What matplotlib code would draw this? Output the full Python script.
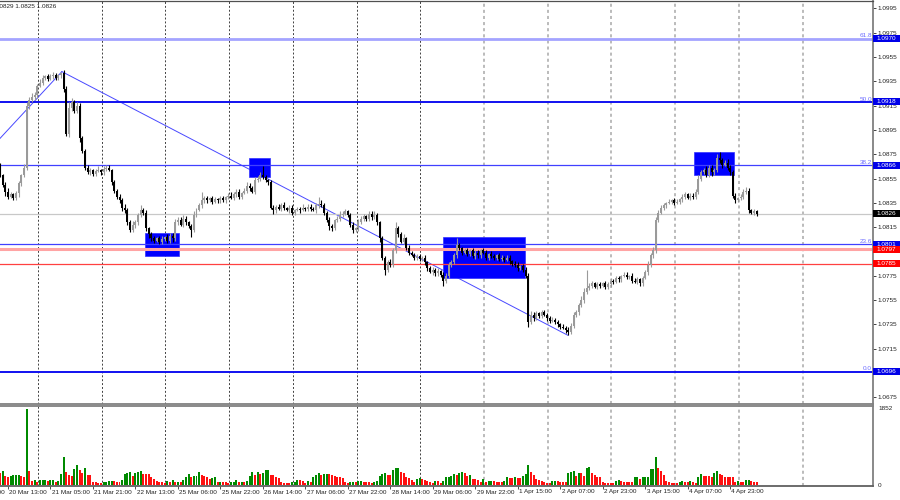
import numpy as np
import matplotlib
matplotlib.use('Agg')
import matplotlib.pyplot as plt
from matplotlib.patches import Rectangle
from matplotlib.transforms import blended_transform_factory

plt.rcParams['font.family'] = ['Liberation Sans', 'DejaVu Sans']

# --- DATA (H1 bars, bar 0 = 20 Mar 13:00) ---
FIRST_BAR = -3
FIRST_OPEN = 1.0866

closes = [
    1.0858, 1.0850, 1.0844, 1.0840, 1.0842, 1.0839, 1.0843, 1.0851, 1.0858, 1.0864,
    1.0915, 1.0920, 1.0922, 1.0924, 1.0931, 1.0934, 1.0938, 1.0939, 1.0937, 1.0939,
    1.0940, 1.0938, 1.0940, 1.0942, 1.0929, 1.0892, 1.0913, 1.0918, 1.0911, 1.0915,
    1.0888, 1.0878, 1.0864, 1.0860, 1.0862, 1.0859, 1.0861, 1.0862, 1.0860, 1.0863,
    1.0864, 1.0862, 1.0852, 1.0845, 1.0840, 1.0837, 1.0831, 1.0829, 1.0819, 1.0813,
    1.0817, 1.0819, 1.0825, 1.0829, 1.0827, 1.0814, 1.0809, 1.0806, 1.0804, 1.0806,
    1.0803, 1.0805, 1.0807, 1.0804, 1.0808, 1.0806, 1.0819, 1.0821, 1.0817, 1.0822,
    1.0819, 1.0816, 1.0813, 1.0825, 1.0829, 1.0833, 1.0837, 1.0839, 1.0837, 1.0839,
    1.0836, 1.0838, 1.0837, 1.0839, 1.0837, 1.0840, 1.0841, 1.0839, 1.0842, 1.0844,
    1.0840, 1.0843, 1.0845, 1.0849, 1.0847, 1.0844, 1.0854, 1.0855, 1.0858, 1.0856,
    1.0854, 1.0852, 1.0831, 1.0829, 1.0832, 1.0830, 1.0833, 1.0831, 1.0829, 1.0831,
    1.0827, 1.0829, 1.0830, 1.0829, 1.0831, 1.0830, 1.0832, 1.0830, 1.0829, 1.0833,
    1.0834, 1.0833, 1.0827, 1.0821, 1.0816, 1.0814, 1.0821, 1.0822, 1.0825, 1.0826,
    1.0828, 1.0825, 1.0817, 1.0813, 1.0814, 1.0819, 1.0822, 1.0824, 1.0822, 1.0826,
    1.0823, 1.0825, 1.0819, 1.0806, 1.0790, 1.0780, 1.0786, 1.0784, 1.0796, 1.0814,
    1.0809, 1.0803, 1.0806, 1.0798, 1.0794, 1.0792, 1.0790, 1.0791, 1.0789, 1.0790,
    1.0786, 1.0781, 1.0778, 1.0780, 1.0777, 1.0779, 1.0776, 1.0771, 1.0775, 1.0784,
    1.0786, 1.0792, 1.0800, 1.0798, 1.0794, 1.0796, 1.0793, 1.0796, 1.0791, 1.0794,
    1.0792, 1.0796, 1.0794, 1.0790, 1.0793, 1.0791, 1.0790, 1.0792, 1.0789, 1.0790,
    1.0788, 1.0790, 1.0787, 1.0785, 1.0784, 1.0781, 1.0783, 1.0780, 1.0775, 1.0737,
    1.0743, 1.0740, 1.0744, 1.0742, 1.0745, 1.0743, 1.0740, 1.0738, 1.0739, 1.0737,
    1.0735, 1.0733, 1.0732, 1.0730, 1.0729, 1.0734, 1.0743, 1.0745, 1.0751, 1.0755,
    1.0762, 1.0765, 1.0767, 1.0769, 1.0766, 1.0768, 1.0767, 1.0769, 1.0766, 1.0768,
    1.0771, 1.0770, 1.0773, 1.0772, 1.0775, 1.0776, 1.0774, 1.0775, 1.0771, 1.0770,
    1.0772, 1.0769, 1.0773, 1.0778, 1.0784, 1.0792, 1.0796, 1.0821, 1.0827, 1.0831,
    1.0833, 1.0835, 1.0836, 1.0837, 1.0835, 1.0836, 1.0838, 1.0840, 1.0842, 1.0839,
    1.0841, 1.0840, 1.0844, 1.0855, 1.0860, 1.0862, 1.0858, 1.0864, 1.0860, 1.0862,
    1.0872, 1.0870, 1.0866, 1.0868, 1.0864, 1.0860, 1.0841, 1.0837, 1.0839, 1.0840,
    1.0844, 1.0845, 1.0829, 1.0827, 1.0828, 1.0826,
]

# wick lengths above / below the body, in pips
upper_wick = [
    2, 1, 2, 3, 2, 1, 2, 2, 1, 3,
    3, 2, 3, 2, 2, 3, 2, 1, 2, 2,
    3, 2, 1, 1, 2, 2, 5, 3, 2, 3,
    2, 2, 1, 2, 2, 1, 2, 3, 1, 2,
    2, 2, 1, 2, 1, 2, 2, 3, 2, 2,
    3, 2, 2, 4, 2, 2, 1, 2, 2, 1,
    2, 3, 1, 2, 2, 2, 3, 2, 2, 3,
    2, 1, 2, 3, 2, 2, 7, 2, 2, 1,
    2, 2, 1, 2, 2, 1, 2, 3, 2, 2,
    2, 1, 2, 3, 2, 2, 2, 2, 2, 7,
    2, 1, 2, 2, 1, 2, 2, 3, 1, 2,
    2, 1, 2, 2, 3, 1, 2, 2, 2, 2,
    6, 3, 2, 1, 2, 2, 1, 2, 3, 2,
    2, 1, 2, 2, 1, 3, 2, 2, 1, 2,
    2, 3, 2, 1, 2, 1, 2, 3, 2, 5,
    2, 2, 3, 1, 2, 1, 2, 2, 2, 1,
    2, 1, 2, 2, 1, 2, 1, 2, 2, 2,
    2, 2, 6, 2, 1, 2, 2, 1, 2, 2,
    2, 1, 2, 2, 1, 2, 2, 1, 2, 2,
    1, 2, 2, 1, 2, 2, 1, 2, 2, 2,
    3, 2, 2, 1, 2, 2, 1, 2, 2, 1,
    2, 1, 2, 2, 3, 2, 2, 2, 2, 3,
    3, 15, 2, 2, 1, 2, 2, 1, 2, 2,
    2, 1, 2, 2, 1, 2, 2, 1, 2, 2,
    2, 1, 2, 2, 3, 2, 3, 2, 2, 2,
    2, 1, 2, 1, 2, 2, 1, 2, 2, 1,
    2, 2, 2, 3, 2, 2, 3, 2, 2, 2,
    3, 5, 2, 2, 3, 2, 2, 2, 1, 2,
    2, 3, 2, 1, 2, 1,
]
lower_wick = [
    2, 2, 3, 2, 1, 2, 2, 3, 2, 2,
    2, 3, 2, 2, 3, 1, 2, 2, 2, 1,
    2, 2, 2, 2, 3, 2, 3, 2, 2, 2,
    3, 2, 2, 1, 2, 2, 2, 1, 2, 2,
    2, 1, 2, 2, 2, 2, 3, 2, 2, 2,
    2, 3, 2, 2, 2, 2, 3, 2, 2, 1,
    2, 2, 1, 2, 2, 3, 2, 2, 1, 2,
    2, 2, 6, 2, 2, 1, 2, 2, 2, 1,
    2, 1, 2, 2, 1, 2, 2, 1, 2, 2,
    2, 2, 1, 2, 2, 1, 2, 2, 2, 1,
    2, 2, 1, 3, 2, 1, 2, 2, 1, 2,
    2, 2, 1, 2, 1, 2, 2, 2, 1, 2,
    2, 1, 2, 2, 3, 2, 1, 2, 2, 2,
    1, 2, 2, 3, 2, 2, 1, 2, 2, 2,
    2, 1, 2, 3, 2, 4, 2, 2, 2, 2,
    2, 1, 2, 2, 2, 1, 2, 2, 2, 2,
    2, 2, 1, 2, 2, 2, 2, 4, 2, 2,
    2, 1, 2, 2, 2, 1, 2, 2, 1, 2,
    2, 2, 1, 2, 2, 1, 2, 2, 2, 2,
    2, 1, 2, 2, 2, 2, 1, 2, 2, 4,
    2, 2, 1, 2, 2, 1, 2, 2, 1, 2,
    2, 2, 1, 2, 3, 2, 2, 2, 2, 2,
    2, 2, 2, 2, 1, 2, 2, 1, 2, 2,
    2, 2, 1, 2, 2, 1, 2, 2, 2, 1,
    2, 2, 2, 1, 2, 2, 2, 2, 2, 1,
    2, 2, 1, 2, 2, 1, 2, 2, 2, 1,
    2, 2, 2, 2, 2, 1, 2, 2, 3, 2,
    2, 2, 2, 1, 2, 2, 2, 2, 1, 2,
    2, 2, 2, 1, 2, 2,
]

volumes = [
    293, 342, 220, 195, 220, 238, 244, 250, 220, 195,
    1852, 342, 98, 122, 73, 122, 125, 128, 98, 122,
    124, 73, 98, 268, 683, 317, 244, 220, 390, 488,
    366, 293, 415, 244, 240, 73, 70, 48, 46, 73,
    75, 98, 100, 98, 73, 70, 122, 268, 293, 317,
    220, 293, 317, 342, 268, 266, 264, 195, 146, 98,
    73, 70, 48, 98, 73, 122, 73, 75, 72, 122,
    195, 268, 195, 220, 222, 317, 244, 220, 195, 146,
    171, 195, 73, 75, 72, 70, 48, 73, 75, 122,
    73, 75, 72, 98, 220, 317, 244, 317, 268, 293,
    366, 368, 244, 240, 195, 171, 73, 48, 46, 44,
    73, 75, 122, 122, 98, 48, 98, 73, 195, 244,
    293, 244, 268, 270, 266, 244, 220, 195, 190, 171,
    73, 48, 73, 75, 72, 98, 100, 73, 70, 68,
    48, 73, 98, 220, 268, 293, 244, 240, 366, 415,
    418, 317, 293, 195, 171, 122, 73, 146, 171, 146,
    122, 98, 73, 48, 98, 96, 48, 98, 195, 197,
    220, 268, 244, 293, 317, 293, 220, 244, 146, 144,
    122, 73, 146, 73, 98, 100, 98, 73, 72, 70,
    98, 195, 171, 170, 195, 171, 170, 220, 268, 488,
    317, 244, 146, 122, 98, 73, 48, 46, 98, 100,
    98, 73, 72, 70, 293, 317, 342, 220, 293, 290,
    220, 415, 439, 293, 244, 195, 193, 73, 48, 46,
    44, 42, 98, 122, 98, 73, 72, 70, 68, 195,
    197, 146, 195, 197, 199, 390, 392, 683, 415, 342,
    244, 98, 73, 48, 46, 44, 73, 98, 73, 72,
    98, 73, 48, 195, 268, 220, 218, 216, 195, 293,
    342, 268, 244, 195, 193, 191, 189, 73, 98, 73,
    72, 122, 124, 98, 73, 72,
]
VOL_MAX = 1852

date_labels = ['19 Mar 21:00', '20 Mar 13:00', '21 Mar 05:00', '21 Mar 21:00',
               '22 Mar 13:00', '25 Mar 06:00', '25 Mar 22:00', '26 Mar 14:00',
               '27 Mar 06:00', '27 Mar 22:00', '28 Mar 14:00', '29 Mar 06:00',
               '29 Mar 22:00', '1 Apr 15:00', '2 Apr 07:00', '2 Apr 23:00',
               '3 Apr 15:00', '4 Apr 07:00', '4 Apr 23:00']
date_bars = [-16, 0, 16, 32, 48, 64, 80, 96, 112, 128, 144, 160,
             176, 192, 208, 224, 240, 256, 272]
grid_bars = [11.3, 35.3, 59.3, 83.3, 107.3, 131.3, 155.3, 179.3,
             203.3, 227.3, 251.3, 275.3, 299.3]

price_ticks = [1.0675, 1.0695, 1.0715, 1.0735, 1.0755, 1.0775, 1.0795, 1.0815,
               1.0835, 1.0855, 1.0875, 1.0895, 1.0915, 1.0935, 1.0955, 1.0975, 1.0995]

fib_levels = [1.0696, 1.0801, 1.0866, 1.0918, 1.0970]
fib_names = ['0.0', '23.6', '38.2', '50.0', '61.8']
support_levels = [1.0797, 1.0785]
last_price = 1.0826

# trend lines (bar, price)
trend_up = [(-6, 1.0881), (20.3, 1.0943)]
trend_down = [(20.3, 1.0943), (210.9, 1.0726)]

# blue zones
zone_start = [51.6, 90.8, 163.8, 258.4]
zone_end = [64.4, 98.7, 194.7, 273.4]
zone_low = [1.0791, 1.0856, 1.0773, 1.0858]
zone_high = [1.0810, 1.0872, 1.0807, 1.0877]

# --- DERIVED ---
bars = np.arange(FIRST_BAR, FIRST_BAR + len(closes))
closes = np.array(closes)
opens = np.concatenate([[FIRST_OPEN], closes[:-1]])
highs = np.maximum(opens, closes) + np.array(upper_wick) * 0.0001
lows = np.minimum(opens, closes) - np.array(lower_wick) * 0.0001
bull = closes >= opens

# --- FIGURE ---
fig = plt.figure(figsize=(9, 5), dpi=100)
fig.patch.set_facecolor('white')
ax = fig.add_axes([0, 1 - 404 / 500, 873 / 900, 403 / 500])
axv = fig.add_axes([0, 1 - 486 / 500, 873 / 900, 80 / 500], sharex=ax)

XMIN, XMAX = -3.01, 325.8

for a in (ax, axv):
    a.spines['left'].set_visible(False)
    for s in ('top', 'right', 'bottom'):
        a.spines[s].set_color('#808080')
        a.spines[s].set_linewidth(1.3)
ax.spines['top'].set_color('#505050')
ax.spines['top'].set_linewidth(0.9)
axv.spines['bottom'].set_color('#606060')

# vertical grid
for g in grid_bars:
    col = '#404040' if g < 170 else '#a8a8a8'
    lw = 0.7 if g < 170 else 1.1
    for a in (ax, axv):
        a.axvline(g, color=col, lw=lw, ls=(0, (2, 2)), zorder=0.5)

# trend lines
for line in (trend_up, trend_down):
    ax.plot([line[0][0], line[1][0]], [line[0][1], line[1][1]],
            color='#4848ff', lw=0.7, zorder=1)

# blue zones
for x0, x1, y0, y1 in zip(zone_start, zone_end, zone_low, zone_high):
    ax.add_patch(Rectangle((x0, y0), x1 - x0, y1 - y0, facecolor='#0000ff',
                           edgecolor='#3030ff', lw=0.5, zorder=1.5))

# horizontal levels
fib_style = {1.0970: ('#a4a4ff', 2.0), 1.0918: ('#1010f0', 1.4),
             1.0866: ('#4040ff', 0.9), 1.0801: ('#4040ff', 0.9),
             1.0696: ('#1010f0', 1.4)}
for lvl in fib_levels:
    c, lw = fib_style[lvl]
    ax.axhline(lvl, color=c, lw=lw, zorder=2)
ax.axhline(support_levels[0], color='#ffa4a4', lw=2.2, zorder=2)
ax.axhline(support_levels[1], color='#ff4040', lw=0.9, zorder=2)
ax.axhline(last_price, color='#c8c8c8', lw=0.9, zorder=1.2)

# candles
body_col = np.where(bull, '#9a9a9a', '#000000')
ax.vlines(bars, lows, highs, colors=body_col, lw=0.8, zorder=3)
heights = np.abs(closes - opens)
heights = np.where(heights < 0.00005, 0.00005, heights)
ax.bar(bars, heights, bottom=np.minimum(opens, closes), width=0.75,
       color=body_col, linewidth=0, zorder=3.1)

# volumes (MT4 style: green when volume grows)
vols = np.array(volumes)
vcol = ['#008a00' if i > 0 and vols[i] > vols[i - 1] else '#ff1010'
        for i in range(len(vols))]
axv.bar(bars, vols, width=0.75, color=vcol, linewidth=0, zorder=2)

# right price scale (labels hidden under a value box are left out)
ax.yaxis.tick_right()
ax.set_yticks(price_ticks)
ax.set_yticklabels(['' if p in (1.0695, 1.0795) else '%.4f' % p for p in price_ticks])
ax.tick_params(axis='y', length=2, width=0.6, pad=1.5, labelsize=4.6,
               colors='#222222')
ax.tick_params(axis='x', bottom=False, labelbottom=False)
axv.set_yticks([])

tr = blended_transform_factory(ax.transAxes, ax.transData)
box_h = 7 / 12150


def price_box(p, fc):
    ax.add_patch(Rectangle((1.0, p - box_h / 2), 27 / 873, box_h, transform=tr,
                           facecolor=fc, edgecolor='none', clip_on=False, zorder=6))
    ax.text(1.0 + 3 / 873, p, '%.4f' % p, transform=tr, ha='left', va='center',
            fontsize=4.6, color='white', clip_on=False, zorder=7)


for lvl, name in zip(fib_levels, fib_names):
    price_box(lvl, '#0000e8')
    ax.text(0.999, lvl + 0.00004, name, transform=tr, ha='right', va='bottom',
            fontsize=4.6, color='#6c6cff', zorder=4)
price_box(last_price, '#000000')
for lvl in support_levels:
    price_box(lvl, '#ff0000')

# volume scale labels
trv = blended_transform_factory(axv.transAxes, axv.transData)
axv.text(1.006, VOL_MAX, '1852', transform=trv, ha='left', va='center',
         fontsize=4.6, color='#222222', clip_on=False)
axv.text(1.006, 0, '0', transform=trv, ha='left', va='center',
         fontsize=4.6, color='#222222', clip_on=False)

# time scale
axv.set_xticks(date_bars)
axv.tick_params(axis='x', length=2.5, width=0.6, color='#333333',
                labelbottom=False, direction='out')
trx = blended_transform_factory(axv.transData, axv.transAxes)
for b, lab in zip(date_bars, date_labels):
    axv.text(b + 0.5, -0.075, lab, transform=trx, ha='left', va='center',
             fontsize=4.6, color='#222222', clip_on=False)

fig.text(-6 / 900, 1 - 7 / 500, '1.0829 1.0825 1.0826', ha='left', va='center',
         fontsize=4.6, color='#222222')

# limits last, so nothing autoscales them afterwards
ax.set_xlim(XMIN, XMAX)
ax.set_ylim(1.06695, 1.10011)
axv.set_ylim(-24, 1925)

fig.savefig('out.png', dpi=100, facecolor='white')
